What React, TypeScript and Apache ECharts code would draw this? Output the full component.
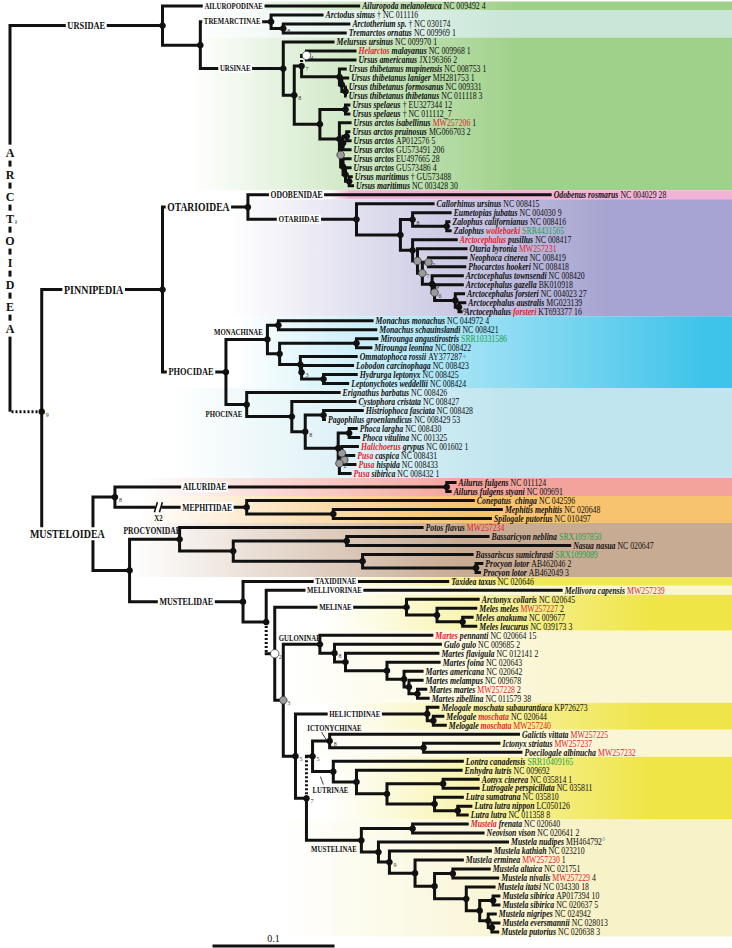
import React, { useEffect, useRef } from "react";
import * as echarts from "echarts";

// ---------------- DATA ----------------
// [tip depth (substitutions/site from root), name ([..] = red), accession (r:/g: colour), suffix (b: = blue)]
const SPECIES: [number, string, string, string][] = [
  [0.287, "Ailuropoda melanoleuca", "NC 009492", "4"],
  [0.257, "Arctodus simus", "† NC 011116", ""],
  [0.279, "Arctotherium sp.", "† NC 030174", ""],
  [0.276, "Tremarctos ornatus", "NC 009969", "1"],
  [0.266, "Melursus ursinus", "NC 009970", "1"],
  [0.284, "[Helarctos] malayanus", "NC 009968", "1"],
  [0.284, "Ursus americanus", "JX196366", "2"],
  [0.276, "Ursus thibetanus mupinensis", "NC 008753", "1"],
  [0.278, "Ursus thibetanus laniger", "MH281753", "1"],
  [0.276, "Ursus thibetanus formosanus", "NC 009331", ""],
  [0.276, "Ursus thibetanus thibetanus", "NC 011118", "3"],
  [0.279, "Ursus spelaeus", "† EU327344", "12"],
  [0.279, "Ursus spelaeus", "† NC 011112_7", ""],
  [0.280, "Ursus arctos isabellinus", "r:MW257206", "1"],
  [0.279, "Ursus arctos pruinosus", "MG066703", "2"],
  [0.280, "Ursus arctos", "AP012576", "5"],
  [0.280, "Ursus arctos", "GU573491", "206"],
  [0.280, "Ursus arctos", "EU497665", "28"],
  [0.280, "Ursus arctos", "GU573486", "4"],
  [0.281, "Ursus maritimus", "† GU573488", ""],
  [0.282, "Ursus maritimus", "NC 003428", "30"],
  [0.444, "Odobenus rosmarus", "NC 004029", "28"],
  [0.348, "Callorhinus ursinus", "NC 008415", ""],
  [0.362, "Eumetopias jubatus", "NC 004030", "9"],
  [0.361, "Zalophus californianus", "NC 008416", ""],
  [0.362, "Zalophus [wollebaeki]", "g:SRR4431565", ""],
  [0.367, "[Arctocephalus] pusillus", "NC 008417", ""],
  [0.375, "Otaria byronia", "r:MW257231", ""],
  [0.375, "Neophoca cinerea", "NC 008419", ""],
  [0.374, "Phocarctos hookeri", "NC 008418", ""],
  [0.372, "Arctocephalus townsendi", "NC 008420", ""],
  [0.372, "Arctocephalus gazella", "BK010918", ""],
  [0.373, "Arctocephalus forsteri", "NC 004023", "27"],
  [0.374, "Arctocephalus australis", "MG023139", ""],
  [0.371, "Arctocephalus [forsteri]", "KT693377", "16"],
  [0.298, "Monachus monachus", "NC 044972", "4"],
  [0.301, "Monachus schauinslandi", "NC 008421", ""],
  [0.302, "Mirounga angustirostris", "g:SRR10331586", ""],
  [0.297, "Mirounga leonina", "NC 008422", ""],
  [0.285, "Ommatophoca rossii", "AY377287", "b:+"],
  [0.282, "Lobodon carcinophaga", "NC 008423", ""],
  [0.285, "Hydrurga leptonyx", "NC 008425", ""],
  [0.278, "Leptonychotes weddellii", "NC 008424", ""],
  [0.271, "Erignathus barbatus", "NC 008426", ""],
  [0.284, "Cystophora cristata", "NC 008427", ""],
  [0.290, "Histriophoca fasciata", "NC 008428", ""],
  [0.259, "Pagophilus groenlandicus", "NC 008429", "53"],
  [0.285, "Phoca largha", "NC 008430", ""],
  [0.287, "Phoca vitulina", "NC 001325", ""],
  [0.286, "[Halichoerus] grypus", "NC 001602", "1"],
  [0.283, "[Pusa] caspica", "NC 008431", ""],
  [0.284, "[Pusa] hispida", "NC 008433", ""],
  [0.280, "[Pusa] sibirica", "NC 008432", "1"],
  [0.366, "Ailurus fulgens", "NC 011124", ""],
  [0.362, "Ailurus fulgens styani", "NC 009691", ""],
  [0.381, "Conepatus  chinga", "NC 042596", ""],
  [0.404, "Mephitis mephitis", "NC 020648", ""],
  [0.395, "Spilogale putorius", "NC 010497", ""],
  [0.339, "Potos flavus", "r:MW257234", ""],
  [0.393, "Bassaricyon neblina", "g:SRX1097850", ""],
  [0.460, "Nasua nasua", "NC 020647", ""],
  [0.380, "Bassariscus sumichrasti", "g:SRX1099089", ""],
  [0.388, "Procyon lotor", "AB462046", "2"],
  [0.386, "Procyon lotor", "AB462049", "3"],
  [0.360, "Taxidea taxus", "NC 020646", ""],
  [0.453, "Mellivora capensis", "r:MW257239", ""],
  [0.385, "Arctonyx collaris", "NC 020645", ""],
  [0.383, "Meles meles", "r:MW257227", "2"],
  [0.380, "Meles anakuma", "NC 009677", ""],
  [0.383, "Meles leucurus", "NC 039173", "3"],
  [0.347, "[Martes] pennanti", "NC 020664", "15"],
  [0.354, "Gulo gulo", "NC 009685", "2"],
  [0.352, "Martes flavigula", "NC 012141", "2"],
  [0.353, "Martes foina", "NC 020643", ""],
  [0.339, "Martes americana", "NC 020642", ""],
  [0.339, "Martes melampus", "NC 009678", ""],
  [0.342, "Martes martes", "r:MW257228", "2"],
  [0.344, "Martes zibellina", "NC 011579", "38"],
  [0.352, "Melogale moschata subaurantiaca", "KP726273", ""],
  [0.356, "Melogale [moschata]", "NC 020644", ""],
  [0.358, "Melogale [moschata]", "r:MW257240", ""],
  [0.418, "Galictis vittata", "r:MW257225", ""],
  [0.402, "Ictonyx striatus", "r:MW257237", ""],
  [0.420, "Poecilogale albinucha", "r:MW257232", ""],
  [0.372, "Lontra canadensis", "g:SRR10409165", ""],
  [0.371, "Enhydra lutris", "NC 009692", ""],
  [0.385, "Aonyx cinerea", "NC 035814", "1"],
  [0.385, "Lutrogale perspicillata", "NC 035811", ""],
  [0.372, "Lutra sumatrana", "NC 035810", ""],
  [0.379, "Lutra lutra nippon", "LC050126", ""],
  [0.376, "Lutra lutra", "NC 011358", "8"],
  [0.376, "[Mustela] frenata", "NC 020640", ""],
  [0.389, "Neovison vison", "NC 020641", "2"],
  [0.409, "Mustela nudipes", "MH464792", "b:°"],
  [0.395, "Mustela kathiah", "NC 023210", ""],
  [0.372, "Mustela erminea", "r:MW257230", "1"],
  [0.394, "Mustela altaica", "NC 021751", ""],
  [0.401, "Mustela nivalis", "r:MW257229", "4"],
  [0.398, "Mustela itatsi", "NC 034330", "18"],
  [0.402, "Mustela sibirica", "AP017394", "10"],
  [0.402, "Mustela sibirica", "NC 020637", "5"],
  [0.399, "Mustela nigripes", "NC 024942", ""],
  [0.402, "Mustela eversmannii", "NC 028013", ""],
  [0.401, "Mustela putorius", "NC 020638", "3"],
];

type TNode = {
  d: number; c?: TNode[]; leaf?: number; lab?: string; m?: string; s?: string;
  dash?: string; y?: number;
};
function l(i: number, o: any = {}): TNode { return { leaf: i, d: SPECIES[i][0], ...o }; }
function n(d: number, c: (number | TNode)[], o: any = {}): TNode {
  return { d, c: c.map((k) => (typeof k === "number" ? l(k) : k)), ...o };
}

// Node depths (substitutions/site); m: g = grey, w = open node; s = support; dash = dotted branch part
const TREE: TNode = n(0, [
  n(0.125, [
    l(0, { lab: "AILUROPODINAE" }),
    n(0.156, [
      n(0.214, [1, n(0.224, [2, 3], { s: "8" })], { lab: "TREMARCTINAE" }),
      n(0.224, [
        4,
        n(0.233, [
          n(0.239, [
            n(0.243, [5, 6], { m: "w", s: "4", dash: "v" }),
            n(0.270, [7, n(0.272, [8, n(0.275, [9, 10])])]),
          ], { s: "7" }),
          n(0.254, [
            n(0.275, [11, 12]),
            n(0.270, [
              13,
              n(0.271, [
                n(0.273, [n(0.276, [14, 15]), 16]),
                n(0.273, [17, n(0.275, [18, n(0.278, [19, 20])])]),
              ], { m: "g" }),
            ]),
          ]),
        ], { s: "8" }),
      ], { lab: "URSINAE" }),
    ]),
  ], { lab: "URSIDAE" }),
  n(0.026, [
    n(0.125, [
      n(0.195, [
        l(21, { lab: "ODOBENIDAE" }),
        n(0.284, [
          22,
          n(0.320, [
            n(0.330, [23, n(0.358, [24, 25])], { s: "8" }),
            n(0.330, [
              26,
              n(0.334, [
                27,
                n(0.338, [
                  n(0.343, [28, 29], { m: "g", s: "5" }),
                  n(0.346, [
                    30,
                    n(0.348, [31, n(0.365, [32, n(0.368, [33, 34], { s: "8" })])], { m: "g", s: "6" }),
                  ], { s: "9" }),
                ], { m: "g", s: "7" }),
              ], { m: "g", s: "5" }),
            ]),
          ]),
        ], { lab: "OTARIIDAE" }),
      ], { lab: "OTARIOIDEA" }),
      n(0.177, [
        n(0.211, [
          n(0.220, [35, 36]),
          n(0.221, [
            n(0.284, [37, 38]),
            n(0.238, [39, n(0.239, [40, n(0.257, [41, 42])], { s: "3" })]),
          ]),
        ], { lab: "MONACHINAE" }),
        n(0.194, [
          43,
          n(0.231, [
            44,
            n(0.242, [
              n(0.257, [45, 46]),
              n(0.269, [
                n(0.278, [47, 48]),
                n(0.270, [n(0.272, [49, n(0.274, [50, 51], { m: "g" })], { m: "g", s: "4" }), 52], { m: "g", s: "2" }),
              ]),
            ], { s: "8" }),
          ]),
        ], { lab: "PHOCINAE" }),
      ], { lab: "PHOCIDAE" }),
    ], { lab: "PINNIPEDIA" }),
    n(0.068, [
      n(0.086, [
        n(0.358, [53, 54], { lab: "AILURIDAE" }),
        n(0.194, [55, n(0.265, [56, 57])], { lab: "MEPHITIDAE" }),
      ], { s: "8" }),
      n(0.098, [
        n(0.139, [
          58,
          n(0.183, [
            n(0.276, [59, 60]),
            n(0.289, [61, n(0.382, [62, 63])]),
          ]),
        ], { lab: "PROCYONIDAE" }),
        n(0.191, [
          l(64, { lab: "TAXIDIINAE" }),
          n(0.210, [
            l(65, { lab: "MELLIVORINAE" }),
            n(0.217, [
              n(0.325, [66, n(0.350, [67, n(0.371, [68, 69])])], { lab: "MELINAE" }),
              n(0.224, [
                n(0.254, [70, n(0.266, [71, n(0.275, [72, n(0.309, [73, n(0.323, [74, n(0.327, [75, n(0.334, [76, 77])])])])])], { s: "8" })], { lab: "GULONINAE" }),
                n(0.234, [
                  n(0.342, [78, n(0.347, [79, 80])], { lab: "HELICTIDINAE" }),
                  n(0.243, [
                    n(0.248, [
                      n(0.262, [81, n(0.339, [82, 83])], { lab: "ICTONYCHINAE", s: "8" }),
                      n(0.265, [84, n(0.284, [85, n(0.309, [n(0.355, [86, 87]), n(0.348, [88, n(0.367, [89, 90])])])])], { lab: "LUTRINAE" }),
                    ], { s: "5", dash: "v" }),
                    n(0.288, [
                      n(0.330, [91, 92]),
                      n(0.302, [93, n(0.311, [94, n(0.332, [95, n(0.348, [n(0.363, [96, 97]), n(0.374, [98, n(0.385, [n(0.396, [99, 100]), n(0.392, [101, n(0.395, [102, 103])])])])])])], { s: "9" })]),
                    ], { lab: "MUSTELINAE" }),
                  ], { s: "7" }),
                ], { s: "5" }),
              ], { m: "g", s: "3" }),
            ], { m: "w", s: "2", dash: "v" }),
          ]),
        ], { lab: "MUSTELIDAE" }),
      ]),
    ], { lab: "MUSTELOIDEA" }),
  ], { dash: "h", s: "9" }),
], { lab: "ARCTOIDEA", s: "9" });

// Shaded clade blocks: [clade, first leaf, last leaf]
const BANDS: [string, number, number][] = [
  ["AILUROPODINAE", 0, 0], ["TREMARCTINAE", 1, 3], ["URSINAE", 4, 20],
  ["ODOBENIDAE", 21, 21], ["OTARIIDAE", 22, 34], ["MONACHINAE", 35, 42], ["PHOCINAE", 43, 52],
  ["AILURIDAE", 53, 54], ["MEPHITIDAE", 55, 57], ["PROCYONIDAE", 58, 63],
  ["TAXIDIINAE", 64, 64], ["MELLIVORINAE", 65, 65], ["MELINAE", 66, 69], ["GULONINAE", 70, 77],
  ["HELICTIDINAE", 78, 80], ["ICTONYCHINAE", 81, 83], ["LUTRINAE", 84, 90], ["MUSTELINAE", 91, 103],
];

const BREAKS: [string, string][] = [["MEPHITIDAE", "X2"]];
const SCALE_BAR = { start: 0.166, length: 0.1, label: "0.1" };

// ---------------- STYLE ----------------
const SERIF = "'Liberation Serif', 'Times New Roman', serif";
const X_MIN = -0.0082, X_MAX = 0.5918, Y_MIN = -0.667, Y_MAX = 104.78;

const BAND_STYLE: Record<string, { from: number; color: string; stop: number }> = {
  AILUROPODINAE: { from: 0.15, color: "#9fd08a", stop: 0.6 },
  TREMARCTINAE: { from: 0.15, color: "#c9e6d8", stop: 0.6 },
  URSINAE: { from: 0.148, color: "#a0d18b", stop: 0.6 },
  ODOBENIDAE: { from: 0.262, color: "#f2b3d6", stop: 0.05 },
  OTARIIDAE: { from: 0.18, color: "#a7a4d1", stop: 0.75 },
  MONACHINAE: { from: 0.185, color: "#3ec3ea", stop: 0.95 },
  PHOCINAE: { from: 0.13, color: "#c0e5ef", stop: 0.6 },
  AILURIDAE: { from: 0.105, color: "#f3a39b", stop: 0.55 },
  MEPHITIDAE: { from: 0.105, color: "#f8c36f", stop: 0.55 },
  PROCYONIDAE: { from: 0.098, color: "#c8ab93", stop: 0.55 },
  TAXIDIINAE: { from: 0.25, color: "#f0e854", stop: 0.55 },
  MELLIVORINAE: { from: 0.24, color: "#faf6d0", stop: 0.6 },
  MELINAE: { from: 0.26, color: "#efe546", stop: 0.8 },
  GULONINAE: { from: 0.22, color: "#faf6d3", stop: 0.6 },
  HELICTIDINAE: { from: 0.26, color: "#efe54b", stop: 0.8 },
  ICTONYCHINAE: { from: 0.22, color: "#faf6d5", stop: 0.6 },
  LUTRINAE: { from: 0.26, color: "#efe547", stop: 0.8 },
  MUSTELINAE: { from: 0.22, color: "#f7f2c7", stop: 0.65 },
};

const LABEL_STYLE: Record<string, any> = {
  ARCTOIDEA: { size: 12, dy: 22, gap: 22 },
  URSIDAE: { f: 0.5, size: 10.5 },
  AILUROPODINAE: { f: 0.36, size: 8.5 },
  TREMARCTINAE: { f: 0.45, size: 8.5 },
  URSINAE: { f: 0.42, size: 8.5 },
  PINNIPEDIA: { f: 0.43, size: 12.5 },
  OTARIOIDEA: { f: 0.42, size: 12 },
  ODOBENIDAE: { f: 0.16, size: 9.5 },
  OTARIIDAE: { f: 0.47, size: 9 },
  PHOCIDAE: { f: 0.45, size: 10.5 },
  MONACHINAE: { f: 0.3, dy: -7, size: 8.5, bg: false },
  PHOCINAE: { f: -0.1, dy: 10, size: 8.5, bg: false },
  MUSTELOIDEA: { f: 0.5, size: 12.5 },
  AILURIDAE: { f: 0.27, size: 9.5 },
  MEPHITIDAE: { f: 0.7, size: 9.5, brk: 0.33 },
  PROCYONIDAE: { f: 0.45, dy: -9, size: 9.5, bg: false },
  MUSTELIDAE: { f: 0.5, size: 10 },
  TAXIDIINAE: { f: 0.45, size: 8.5 },
  MELLIVORINAE: { f: 0.23, size: 8.5 },
  MELINAE: { f: 0.46, size: 8.5 },
  GULONINAE: { f: 0.45, dy: -6, size: 8.5, bg: false },
  HELICTIDINAE: { f: 0.45, size: 8.5 },
  ICTONYCHINAE: { f: 1.28, dy: -13, size: 8.5, bg: false, leader: [-13, 4, -8, 12] },
  LUTRINAE: { f: 0.86, dy: 19, size: 8.5, bg: false, leader: [-10, -14, -7, -6] },
  MUSTELINAE: { f: 0.5, dy: 9, size: 8.5, bg: false },
};

// ---------------- LAYOUT (tree -> value coordinates) ----------------
type Edge = { px: number; py: number; cx: number; cy: number; dash?: string };
type Lab = { lab: string; px: number; cx: number; y: number };
const EDGES: Edge[] = [];
const INTERNAL: TNode[] = [];
const LEAVES: TNode[] = [];
const LABELS: Lab[] = [];

function layout(nd: TNode): number {
  if (nd.leaf !== undefined) { nd.y = nd.leaf; LEAVES.push(nd); return nd.y; }
  const ys = nd.c!.map(layout);
  nd.y = (ys[0] + ys[ys.length - 1]) / 2;
  INTERNAL.push(nd);
  return nd.y;
}
function collect(nd: TNode, parent: TNode | null) {
  if (parent) {
    EDGES.push({ px: parent.d, py: parent.y!, cx: nd.d, cy: nd.y!, dash: nd.dash });
    if (nd.lab) LABELS.push({ lab: nd.lab, px: parent.d, cx: nd.d, y: nd.y! });
  } else if (nd.lab) {
    LABELS.push({ lab: nd.lab, px: nd.d, cx: nd.d, y: nd.y! });
  }
  (nd.c || []).forEach((k) => collect(k, nd));
}
layout(TREE);
collect(TREE, null);

const RICH: any = {
  i: { fontFamily: SERIF, fontStyle: "italic", fontWeight: "bold", fontSize: 10, fill: "#111", color: "#111" },
  ir: { fontFamily: SERIF, fontStyle: "italic", fontWeight: "bold", fontSize: 10, fill: "#e3232b", color: "#e3232b" },
  a: { fontFamily: SERIF, fontSize: 10, fill: "#111", color: "#111" },
  ar: { fontFamily: SERIF, fontSize: 10, fill: "#e3232b", color: "#e3232b" },
  ag: { fontFamily: SERIF, fontSize: 10, fill: "#1aa14a", color: "#1aa14a" },
  ab: { fontFamily: SERIF, fontSize: 10, fill: "#27a8e0", color: "#27a8e0" },
};

function richLabel(i: number): string {
  const [, name, acc, sfx] = SPECIES[i];
  let s = "";
  name.split(/(\[[^\]]+\])/).forEach((part) => {
    if (!part) return;
    if (part.startsWith("[")) s += `{ir|${part.slice(1, -1)}}`;
    else s += `{i|${part}}`;
  });
  let key = "a", txt = acc;
  if (acc.startsWith("r:")) { key = "ar"; txt = acc.slice(2); }
  else if (acc.startsWith("g:")) { key = "ag"; txt = acc.slice(2); }
  s += `{a| }{${key}|${txt}}`;
  if (sfx) {
    if (sfx.startsWith("b:")) s += `{ab|${sfx.slice(2)}}`;
    else s += `{a| ${sfx}}`;
  }
  return s;
}

function buildOption(): any {
  return {
    animation: false,
    backgroundColor: "#ffffff",
    grid: { left: 0, right: 0, top: 0, bottom: 0 },
    xAxis: { type: "value", min: X_MIN, max: X_MAX, show: false },
    yAxis: { type: "value", min: Y_MIN, max: Y_MAX, inverse: true, show: false },
    series: [
      {
        type: "custom", coordinateSystem: "cartesian2d", silent: true, clip: false, z: 1,
        data: BANDS.map((b) => [BAND_STYLE[b[0]].from, b[1]]),
        renderItem: (params: any, api: any) => {
          const b = BANDS[params.dataIndex];
          const st = BAND_STYLE[b[0]];
          const p0 = api.coord([st.from, b[1] - 0.5]);
          const p1 = api.coord([st.from, b[2] + 0.5]);
          const right = params.coordSys.x + params.coordSys.width;
          return {
            type: "rect",
            shape: { x: p0[0], y: p0[1], width: right - p0[0], height: p1[1] - p0[1] },
            style: {
              fill: new echarts.graphic.LinearGradient(0, 0, 1, 0, [
                { offset: 0, color: "#ffffff" },
                { offset: st.stop, color: st.color },
                { offset: 1, color: st.color },
              ]),
            },
          };
        },
      },
      {
        type: "custom", coordinateSystem: "cartesian2d", silent: true, clip: false, z: 2,
        data: EDGES.map((e) => [e.cx, e.cy]),
        renderItem: (params: any, api: any) => {
          const e = EDGES[params.dataIndex];
          const p0 = api.coord([e.px, e.py]);
          const p1 = api.coord([e.px, e.cy]);
          const p2 = api.coord([e.cx, e.cy]);
          const base = { stroke: "#111", lineWidth: 3, fill: null, lineJoin: "miter", lineCap: "butt" };
          const ch: any[] = [];
          if (e.dash === "v") {
            ch.push({ type: "line", shape: { x1: p0[0], y1: p0[1], x2: p1[0], y2: p1[1] }, style: { ...base, lineDash: [2, 2] } });
            ch.push({ type: "line", shape: { x1: p1[0] - 1.5, y1: p1[1], x2: p2[0], y2: p2[1] }, style: base });
          } else if (e.dash === "h") {
            ch.push({ type: "line", shape: { x1: p0[0], y1: p0[1], x2: p1[0], y2: p1[1] }, style: base });
            ch.push({ type: "line", shape: { x1: p1[0] + 1.5, y1: p1[1], x2: p2[0], y2: p2[1] }, style: { ...base, lineDash: [2, 2] } });
          } else {
            ch.push({ type: "polyline", shape: { points: [p0, p1, p2] }, style: base });
          }
          return { type: "group", children: ch };
        },
      },
      {
        type: "custom", coordinateSystem: "cartesian2d", silent: true, clip: false, z: 3,
        data: INTERNAL.map((nd) => [nd.d, nd.y]),
        renderItem: (params: any, api: any) => {
          const nd = INTERNAL[params.dataIndex];
          const p = api.coord([nd.d, nd.y]);
          const r = nd.m === "w" ? 4.2 : nd.m === "g" ? 3.8 : 3.3;
          const fill = nd.m === "w" ? "#ffffff" : nd.m === "g" ? "#9b9b9b" : "#111";
          const ch: any[] = [{
            type: "circle", shape: { cx: p[0], cy: p[1], r },
            style: { fill, stroke: nd.m ? "#333" : null, lineWidth: nd.m ? 0.8 : 0 },
          }];
          if (nd.s) ch.push({
            type: "text", x: p[0] + 4, y: p[1] + 3,
            style: { text: nd.s, fontSize: 6, fontFamily: SERIF, fill: "#333", align: "left", verticalAlign: "middle" },
          });
          return { type: "group", children: ch };
        },
      },
      {
        type: "custom", coordinateSystem: "cartesian2d", silent: true, clip: false, z: 4,
        data: LEAVES.map((nd) => [nd.d, nd.y]),
        renderItem: (params: any, api: any) => {
          const nd = LEAVES[params.dataIndex];
          const p = api.coord([nd.d, nd.y]);
          return {
            type: "text", x: p[0] + 2, y: p[1], scaleX: 0.78,
            style: {
              text: richLabel(nd.leaf!), rich: RICH, fontFamily: SERIF, fontSize: 10, fill: "#111",
              align: "left", verticalAlign: "middle",
            },
          };
        },
      },
      {
        type: "custom", coordinateSystem: "cartesian2d", silent: true, clip: false, z: 5,
        data: LABELS.map((L) => [L.cx, L.y]),
        renderItem: (params: any, api: any) => {
          const L = LABELS[params.dataIndex];
          const st = LABEL_STYLE[L.lab] || {};
          const ch: any[] = [];
          const txtStyle = (t: string) => ({
            text: t, fontFamily: SERIF, fontWeight: "bold", fontSize: st.size || 9, fill: "#111",
            align: "center", verticalAlign: "middle",
            backgroundColor: st.bg === false ? "transparent" : "#ffffff", padding: [0, 2],
          });
          if (L.lab === "ARCTOIDEA") {
            const p = api.coord([L.px, L.y]);
            const letters = L.lab.split("");
            letters.forEach((c, k) => {
              ch.push({
                type: "text", x: p[0], y: p[1] + st.dy + (k - (letters.length - 1) / 2) * st.gap,
                style: { ...txtStyle(c), padding: [2, 1] },
              });
            });
            return { type: "group", children: ch };
          }
          const f = st.f ?? 0.5;
          const p = api.coord([L.px + (L.cx - L.px) * f, L.y]);
          const cx = p[0], cy = p[1] + (st.dy || 0);
          if (st.brk !== undefined) {
            const b = api.coord([L.px + (L.cx - L.px) * st.brk, L.y]);
            const brk = BREAKS.find((k) => k[0] === L.lab);
            ch.push({ type: "rect", shape: { x: b[0] - 3, y: b[1] - 3, width: 6, height: 6 }, style: { fill: "#ffffff" } });
            ch.push({ type: "line", shape: { x1: b[0] - 4, y1: b[1] + 5, x2: b[0] - 1, y2: b[1] - 5 }, style: { stroke: "#111", lineWidth: 1.6 } });
            ch.push({ type: "line", shape: { x1: b[0] + 1, y1: b[1] + 5, x2: b[0] + 4, y2: b[1] - 5 }, style: { stroke: "#111", lineWidth: 1.6 } });
            if (brk) ch.push({
              type: "text", x: b[0], y: b[1] + 11, scaleX: 0.85,
              style: { text: brk[1], fontFamily: SERIF, fontWeight: "bold", fontSize: 8, fill: "#111", align: "center", verticalAlign: "middle" },
            });
          }
          if (st.leader) {
            ch.push({
              type: "line",
              shape: { x1: cx + st.leader[0], y1: cy + st.leader[1], x2: cx + st.leader[2], y2: cy + st.leader[3] },
              style: { stroke: "#111", lineWidth: 0.8 },
            });
          }
          ch.push({ type: "text", x: cx, y: cy, scaleX: 0.8, style: txtStyle(L.lab) });
          return { type: "group", children: ch };
        },
      },
      {
        type: "custom", coordinateSystem: "cartesian2d", silent: true, clip: false, z: 5,
        data: [[SCALE_BAR.start, Y_MAX]],
        renderItem: (params: any, api: any) => {
          const a = api.coord([SCALE_BAR.start, Y_MAX]);
          const b = api.coord([SCALE_BAR.start + SCALE_BAR.length, Y_MAX]);
          const y = params.coordSys.y + params.coordSys.height - 2;
          return {
            type: "group",
            children: [
              { type: "line", shape: { x1: a[0], y1: y, x2: b[0], y2: y }, style: { stroke: "#111", lineWidth: 3 } },
              {
                type: "text", x: (a[0] + b[0]) / 2, y: y - 8,
                style: { text: SCALE_BAR.label, fontFamily: SERIF, fontSize: 10, fill: "#111", align: "center", verticalAlign: "middle" },
              },
            ],
          };
        },
      },
    ],
  };
}

export default function App() {
  const ref = useRef<HTMLDivElement>(null);
  useEffect(() => {
    const chart = echarts.init(ref.current!, null, { renderer: "svg" });
    chart.setOption(buildOption());
    return () => chart.dispose();
  }, []);
  return (
    <div
      ref={ref}
      style={{ position: "absolute", left: 0, top: 0, width: 732, height: 948, background: "#fff" }}
    />
  );
}
